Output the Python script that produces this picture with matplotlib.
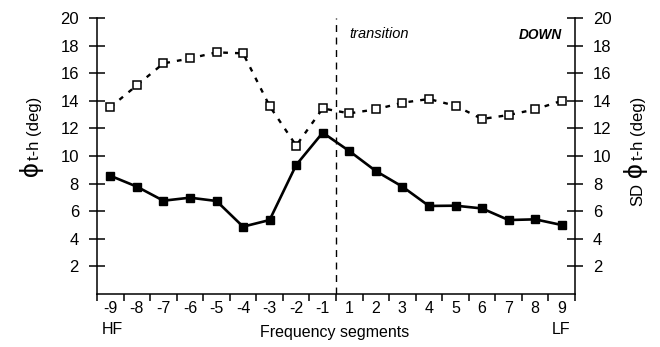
import numpy as np
import matplotlib
matplotlib.use("Agg")
from matplotlib import pyplot as plt

plt.rcParams['font.family'] = ['Liberation Sans', 'DejaVu Sans']

segments = ['-9', '-8', '-7', '-6', '-5', '-4', '-3', '-2', '-1',
            '1', '2', '3', '4', '5', '6', '7', '8', '9']
phi_mean = [8.57, 7.78, 6.76, 6.98, 6.74, 4.88, 5.36, 9.35, 11.69,
            10.36, 8.91, 7.78, 6.38, 6.40, 6.20, 5.36, 5.41, 5.00]
phi_sd = [13.53, 15.12, 16.71, 17.07, 17.51, 17.44, 13.62, 10.75, 13.45,
          13.09, 13.38, 13.86, 14.13, 13.64, 12.68, 12.97, 13.38, 14.00]
y_ticks = [2, 4, 6, 8, 10, 12, 14, 16, 18, 20]

W, H = 660, 347
fig = plt.figure(figsize=(W / 100, H / 100), dpi=100)
ax = fig.add_axes([97 / W, 1 - 294 / H, (575 - 97) / W, (294 - 18) / H])

x = np.arange(len(segments)) + 0.5

ax.plot(x, phi_sd, color='black', lw=1.7, ls=(0, (2.0, 3.0)),
        marker='s', ms=6, mfc='white', mec='black', mew=1.1, zorder=3)
ax.plot(x, phi_mean, color='black', lw=1.9,
        marker='s', ms=6.3, mfc='black', mec='black', zorder=3)

# transition between the -1 and 1 segments
ax.axvline(len(segments) / 2, color='black', lw=1, ls=(0, (5, 4)))

ax.set_xlim(0, len(segments))
ax.set_ylim(0, 20)

ax.spines['top'].set_visible(False)
for s in ['left', 'bottom', 'right']:
    ax.spines[s].set_linewidth(1.1)

ax.set_xticks(np.arange(len(segments) + 1))
ax.set_xticklabels([])
ax.tick_params(axis='x', which='major', direction='out', length=5, width=1.1)
ax.set_xticks(x, minor=True)
ax.set_xticklabels(segments, minor=True, fontsize=11.5)
ax.tick_params(axis='x', which='minor', length=0, pad=5)

ax.set_yticks(y_ticks)
ax.set_yticklabels([str(v) for v in y_ticks], fontsize=12)
ax.tick_params(axis='y', direction='inout', length=12, width=1.1, pad=7,
               right=True, labelright=True)

ax.text(9.5, 18.85, 'transition', fontsize=10.5, style='italic',
        ha='left', va='center')
ax.text(17.5, 18.8, 'DOWN', fontsize=9.8, style='italic', weight='bold',
        ha='right', va='center')

fig.text(335 / W, 1 - 332 / H, 'Frequency segments', fontsize=11.5,
         ha='center', va='center')
fig.text(102 / W, 1 - 330 / H, 'HF', fontsize=11.5, ha='left', va='center')
fig.text(570 / W, 1 - 330 / H, 'LF', fontsize=11.5, ha='right', va='center')

# axis titles: large phi glyph with the rest set smaller
fig.text(31 / W, 1 - 169 / H, '\u03d5', fontsize=19, rotation=90,
         ha='center', va='center')
fig.text(34 / W, 1 - 128 / H, 't-h (deg)', fontsize=12, rotation=90,
         ha='center', va='center')
fig.text(635 / W, 1 - 170 / H, '\u03d5', fontsize=19, rotation=90,
         ha='center', va='center')
fig.text(638 / W, 1 - 128 / H, 't-h (deg)', fontsize=12, rotation=90,
         ha='center', va='center')
fig.text(638 / W, 1 - 195 / H, 'SD', fontsize=12, rotation=90,
         ha='center', va='center')

fig.savefig('out.png', dpi=100)
